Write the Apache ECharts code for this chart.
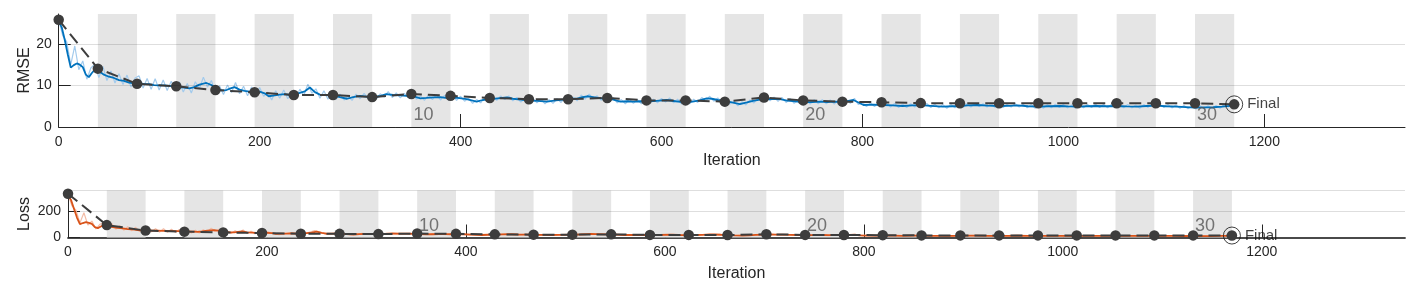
<!DOCTYPE html>
<html><head><meta charset="utf-8">
<script src="https://cdn.jsdelivr.net/npm/echarts@6/dist/echarts.min.js"></script>
<style>html,body{margin:0;padding:0;background:#fff}#c{width:1417px;height:292px}</style>
</head><body><div id="c"></div>
<script>
// ---------- data ----------
const ITERS_PER_EPOCH = 39;
const NUM_EPOCHS = 30;
const xTicks = [0, 200, 400, 600, 800, 1000, 1200];
const rmseTicks = [0, 10, 20];
const lossTicks = [0, 200];
const epochLabelEpochs = [10, 20, 30];
const epochLabels = ['10', '20', '30'];
const finalLabel = 'Final';

// validation (one per epoch, iterations 0,39,...,1170)
const valRMSE = [25.8,14.05,10.4,9.8,8.9,8.35,7.7,7.7,7.2,7.95,7.5,7.0,6.7,6.7,7.0,6.4,6.4,6.1,7.1,6.4,6.1,5.95,5.75,5.7,5.7,5.7,5.7,5.7,5.7,5.7,5.45];
const valLoss = [335,95,53,45,39,34,29,28,26,30,28,24,22,22,24,20,20,19,25,20,19,18,16,16,16,16,16,16,16,16,15];

// smoothed training curves
const smoothIter = [0,3,6,9,12,15,18,21,24,27,30,33,36,39,42,45,50,55,60,65,70,75,80,85,90,95,100,105,110,115,120,125,130,135,140,147,152,157,162,167,171,175,180,185,190,195,200,205,209,215,220,225,230,235,240,245,250,255,260,265,270,275,280,287,293,300,306,312,319,326,333,340,346,351,356,360,366,373,380,385,390,397,406,411,416,422,429,437,446,452,460,468,477,486,495,507,515,520,526,532,540,546,552,559,566,572,579,585,595,605,614,624,631,638,645,650,656,663,670,678,685,691,698,705,712,718,725,733,741,750,758,765,772,780,786,791,796,801,810,819,830,840,850,858,868,880,890,897,905,914,925,936,945,954,965,975,985,997,1005,1014,1023,1033,1043,1053,1063,1073,1083,1092,1102,1113,1122,1131,1140,1149,1158,1166,1170];
const smoothRMSE = [25.5,24.0,21.0,17.5,14.3,14.9,15.3,15.0,14.4,12.6,12.0,13.0,13.8,13.4,13.1,12.6,12.1,11.8,11.3,11.1,10.7,10.5,10.6,10.3,10.3,10.1,10.0,10.0,9.9,9.7,9.6,9.5,9.3,9.6,10.2,10.6,10.1,9.2,8.8,8.9,9.3,9.6,9.0,8.7,8.5,8.4,8.5,8.1,7.4,7.6,7.8,7.9,7.7,7.8,8.2,8.6,9.5,8.4,7.8,7.7,7.6,7.5,7.2,6.8,7.2,7.5,7.3,7.1,7.4,7.9,7.7,7.6,7.5,7.6,7.2,6.9,7.0,7.15,7.2,7.0,7.1,7.0,6.7,6.4,6.1,6.5,6.7,6.9,7.1,6.8,6.6,6.35,6.3,6.1,6.4,6.7,6.8,7.1,7.4,7.2,6.9,6.9,6.6,6.1,6.2,6.1,6.2,6.1,6.3,6.5,6.2,5.95,6.1,6.4,6.9,6.8,6.5,6.3,5.9,5.5,5.9,6.3,6.6,6.75,6.7,6.7,6.35,6.2,6.0,6.0,6.1,6.0,6.1,6.0,6.3,6.5,5.9,5.3,5.4,5.3,5.2,5.05,5.2,5.25,5.1,4.9,5.0,5.05,5.2,5.3,5.15,5.05,5.1,5.2,5.0,4.9,5.0,5.05,4.95,4.9,5.0,5.05,5.0,5.05,4.95,4.9,5.05,5.15,5.0,4.9,4.8,4.65,4.7,4.75,4.9,5.1,5.2];
const smoothLoss = [325,288,220,153,102,111,117,112,104,79,72,84,95,90,86,79,73,70,64,62,57,55,56,53,53,51,50,50,49,47,46,45,43,46,52,56,51,42,39,40,43,46,40,38,36,35,36,33,27,29,30,31,30,30,34,37,45,35,30,30,29,28,26,23,26,28,27,25,27,31,30,29,28,29,26,24,25,26,26,25,25,25,22,20,19,21,22,24,25,23,22,20,20,19,20,22,23,25,27,26,24,24,22,19,19,19,19,19,20,21,19,18,19,20,24,23,21,20,17,15,17,20,22,23,22,22,20,19,18,18,19,18,19,18,20,21,17,14,15,14,14,13,14,14,13,12,12.5,13,14,14,13,13,13,14,12.5,12,12.5,13,12,12,12.5,13,12.5,13,12,12,13,13,12.5,12,11.5,11,11,11,12,13,13.5];

// raw training RMSE, every 4th iteration from 0
const rawRMSE = [
25.8,22.0,20.5,15.0,19.5,13.8,15.9,11.5,14.2,15.1,
11.9,14.6,11.2,13.5,10.6,12.8,10.2,12.5,9.6,11.8,
12.3,9.4,11.7,9.1,11.6,8.9,11.3,8.8,11.0,8.7,
10.9,8.4,10.5,8.2,10.9,9.2,12.0,9.6,11.2,8.3,
9.9,7.8,10.1,8.3,10.7,8.0,9.8,7.5,9.6,7.5,
9.5,7.4,8.4,6.5,8.7,6.9,8.9,6.8,8.7,6.9,
9.1,7.6,10.3,8.1,9.2,6.9,8.7,6.7,8.6,6.6,
7.9,6.5,7.4,6.4,7.9,6.8,8.1,6.8,7.8,6.7,
8.0,7.2,8.5,7.1,8.2,7.0,8.1,7.0,8.2,6.7,
7.5,6.4,7.7,6.6,7.8,6.5,7.6,6.5,7.6,6.4,
7.4,6.2,6.9,5.7,6.6,5.8,7.1,6.2,7.3,6.4,
7.5,6.6,7.5,6.3,7.1,6.0,6.9,5.8,6.9,5.8,
6.7,5.6,6.6,5.7,6.8,5.9,7.1,6.1,7.2,6.3,
7.7,6.7,7.9,6.8,7.5,6.4,7.5,6.3,7.1,5.8,
6.6,5.6,6.7,5.7,6.6,5.6,6.6,5.7,6.7,5.8,
6.9,6.0,7.0,5.8,6.7,5.5,6.5,5.6,6.7,5.9,
7.1,6.3,7.4,6.2,7.0,5.9,6.8,5.5,6.3,5.1,
6.1,5.3,6.5,5.8,7.0,6.1,7.2,6.3,7.2,6.2,
7.1,5.9,6.8,5.7,6.5,5.6,6.5,5.5,6.6,5.6,
6.6,5.6,6.5,5.5,6.6,5.6,6.5,5.7,6.9,5.4,
5.9,4.9,5.8,4.9,5.8,4.8,5.7,4.8,5.7,4.7,
5.5,4.7,5.6,4.8,5.7,4.8,5.7,4.7,5.5,4.6,
5.4,4.5,5.4,4.6,5.5,4.7,5.6,4.8,5.7,4.9,
5.6,4.8,5.6,4.7,5.5,4.7,5.5,4.8,5.6,4.8,
5.5,4.6,5.4,4.5,5.3,4.5,5.4,4.6,5.5,4.7,
5.4,4.6,5.3,4.5,5.4,4.6,5.4,4.7,5.5,4.7,
5.4,4.6,5.5,4.7,5.5,4.6,5.4,4.6,5.3,4.5,
5.4,4.7,5.5,4.8,5.5,4.7,5.4,4.6,5.3,4.5,
5.2,4.4,5.1,4.3,5.1,4.4,5.1,4.4,5.2,4.5,
5.4,4.8,5.5];

// raw training loss: every 4th iteration for 0..196, then every 12th from 200
const rawLossEarly = [333,242,210,112,190,95,126,66,101,114,71,107,63,91,56,82,52,78,46,70,76,44,68,41,67,40,64,39,61,38,59,35,55,34,59,42,72,46,63,35,49,30,51,34,57,32,48,28,46,28];
const rawLossLate = [45,21,38,24,53,24,37,21,31,23,32,25,33,22,30,21,29,19,22,19,28,20,26,16,23,18,26,23,28,19,22,16,22,16,25,15,23,21,24,15,19,16,26,19,23,15,22,15,22,22,17,12,16,12,16,12,15,11,15,12,15,12,15,12,14,11,14,11,14,12,14,11,14,11,14,12,13,10,12,10,14];

// ---------- build ----------
const valIter = valRMSE.map((_, i) => i * ITERS_PER_EPOCH);
const pair = (xs, ys) => xs.map((x, i) => [x, ys[i]]);
const rawRMSEData = rawRMSE.map((v, i) => [i * 4, v]);
const rawLossData = rawLossEarly.map((v, i) => [i * 4, v]).concat(rawLossLate.map((v, i) => [200 + i * 12, v]));
const bands = [];
for (let e = 2; e <= NUM_EPOCHS; e += 2) bands.push([{xAxis: (e - 1) * ITERS_PER_EPOCH}, {xAxis: e * ITERS_PER_EPOCH}]);

const FONT = '"Liberation Sans", Arial, Helvetica, sans-serif';
const AX = '#262626';
const GRIDC = 'rgba(0,0,0,0.13)';

function xAxisCfg(idx, max, gap, lineColor, lineWidth) {
  return {
    type: 'value', gridIndex: idx, min: 0, max: max,
    name: 'Iteration', nameLocation: 'middle', nameGap: gap, nameMoveOverlap: false,
    nameTextStyle: {fontFamily: FONT, fontSize: 16, color: AX},
    axisLine: {show: true, lineStyle: {color: lineColor, width: lineWidth}},
    axisTick: {show: true, inside: true, length: 13, lineStyle: {color: AX}, customValues: xTicks},
    axisLabel: {fontFamily: FONT, fontSize: 14, color: AX, margin: 8, customValues: xTicks, formatter: v => String(v)},
    splitLine: {show: false}
  };
}
function yAxisCfg(idx, max, ticks, name, gap) {
  return {
    type: 'value', gridIndex: idx, min: 0, max: max,
    name: name, nameLocation: 'middle', nameGap: gap, nameRotate: 90, nameMoveOverlap: false,
    nameTextStyle: {fontFamily: FONT, fontSize: 16, color: AX},
    axisLine: {show: true, lineStyle: {color: AX, width: 1}},
    axisTick: {show: true, inside: true, length: 12, lineStyle: {color: AX}, customValues: ticks},
    axisLabel: {fontFamily: FONT, fontSize: 14, color: AX, margin: 7, customValues: ticks, formatter: v => String(v)},
    splitLine: {show: false}
  };
}

function panelSeries(idx, rawData, rawColor, smoothData, smoothColor, valData, gridVals, epochY) {
  const s = [];
  s.push({type: 'line', xAxisIndex: idx, yAxisIndex: idx, data: [[0, 0]], symbol: 'none', silent: true,
    lineStyle: {opacity: 0}, z: 0,
    markArea: {silent: true, itemStyle: {color: '#e5e5e5'}, data: bands}});
  s.push({type: 'line', xAxisIndex: idx, yAxisIndex: idx, data: [[0, 0]], symbol: 'none', silent: true,
    lineStyle: {opacity: 0}, z: 1,
    markLine: {silent: true, symbol: 'none', label: {show: false},
      lineStyle: {color: GRIDC, type: 'solid', width: 1},
      data: gridVals.map(v => ({yAxis: v}))}});
  s.push({type: 'line', xAxisIndex: idx, yAxisIndex: idx, data: rawData, symbol: 'none',
    lineStyle: {color: rawColor, width: 1.2}, z: 2});
  s.push({type: 'line', xAxisIndex: idx, yAxisIndex: idx, data: smoothData, symbol: 'none',
    lineStyle: {color: smoothColor, width: 1.8}, z: 3});
  s.push({type: 'line', xAxisIndex: idx, yAxisIndex: idx, data: valData, symbol: 'circle', symbolSize: 10.5,
    itemStyle: {color: '#3d3d3d', borderWidth: 0},
    lineStyle: {color: '#3d3d3d', width: 2, type: [12, 6]}, z: 4});
  const last = valData[valData.length - 1];
  s.push({type: 'scatter', xAxisIndex: idx, yAxisIndex: idx, data: [last], symbol: 'circle', symbolSize: 17,
    itemStyle: {color: 'rgba(0,0,0,0)', borderColor: '#111', borderWidth: 1}, z: 5,
    label: {show: true, position: 'right', distance: 4, formatter: finalLabel,
      fontFamily: FONT, fontSize: 15, color: '#111'}});
  s.push({type: 'scatter', xAxisIndex: idx, yAxisIndex: idx, symbolSize: 0, z: 6,
    data: epochLabelEpochs.map((e, i) => ({value: [(e - 1) * ITERS_PER_EPOCH + 12, epochY], name: epochLabels[i]})),
    label: {show: true, position: 'inside', formatter: p => p.name, fontFamily: FONT, fontSize: 18, color: '#555'}});
  return s;
}

const chart = echarts.init(document.getElementById('c'), null, {renderer: 'canvas'});
chart.setOption({
  animation: false,
  backgroundColor: '#fff',
  grid: [
    {left: 58.7, right: 12, top: 14, height: 113, containLabel: false, outerBoundsMode: 'none'},
    {left: 68, right: 12, top: 190.5, height: 47, containLabel: false, outerBoundsMode: 'none'}
  ],
  xAxis: [xAxisCfg(0, 1340, 26, AX, 1), xAxisCfg(1, 1344, 28, '#4a4a4a', 1.8)],
  yAxis: [yAxisCfg(0, 27.2, rmseTicks, 'RMSE', 26), yAxisCfg(1, 360, lossTicks, 'Loss', 35)],
  series: [].concat(
    panelSeries(0, rawRMSEData, '#a3cbed', pair(smoothIter, smoothRMSE), '#0072BD', pair(valIter, valRMSE), [10, 20], 2.9),
    panelSeries(1, rawLossData, '#f3bca6', pair(smoothIter, smoothLoss), '#D95319', pair(valIter, valLoss), [200, 360], 86)
  )
});
</script></body></html>
